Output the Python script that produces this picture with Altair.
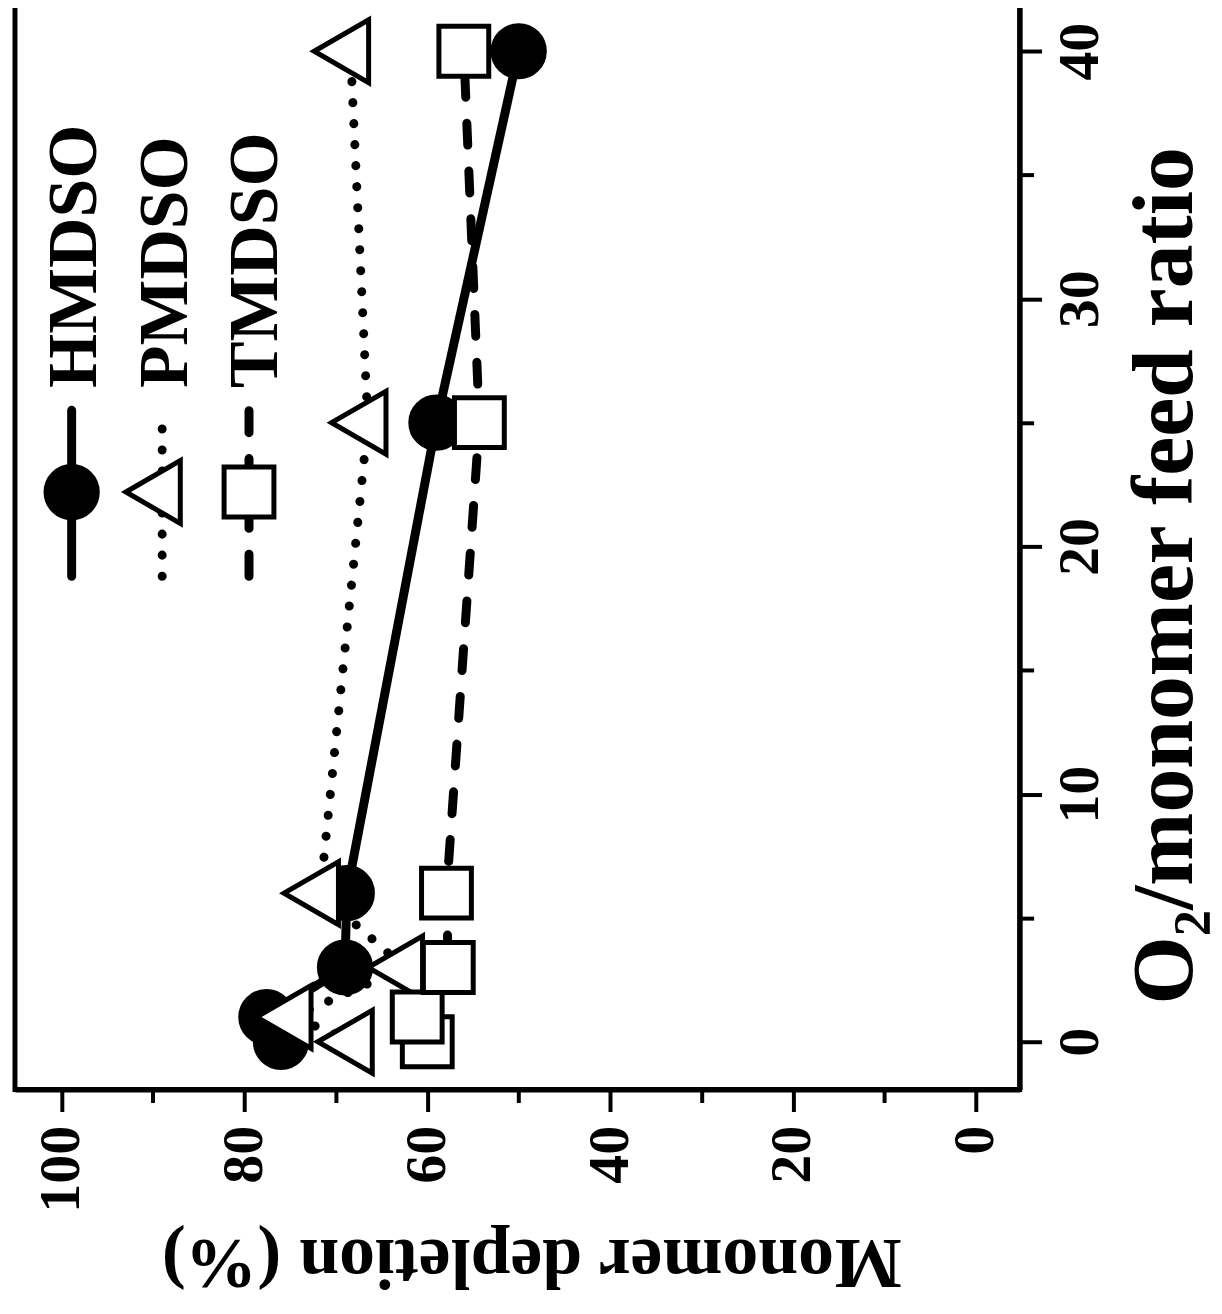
import altair as alt
import pandas as pd

# ---------------- data ----------------
feed_ratio = [0, 1, 3, 6, 25, 40]
hmdso = [76.0, 77.6, 69.0, 68.8, 59.0, 50.0]
pmdso = [68.0, 74.7, 62.5, 71.7, 66.5, 68.4]
tmdso = [60.0, 61.1, 57.7, 57.9, 54.3, 56.0]
series = ["HMDSO", "PMDSO", "TMDSO"]

depletion_ticks = [0, 10, 20, 30, 40, 50, 60, 70, 80, 90, 100]
feed_ticks = [0, 5, 10, 15, 20, 25, 30, 35, 40]

x_title = "Monomer depletion (%)"
y_title = "O\u2082/monomer feed ratio"

# ---------------- tables ----------------
rows = []
for name, vals in zip(series, [hmdso, pmdso, tmdso]):
    for f, v in zip(feed_ratio, vals):
        rows.append({"series": name, "feed": f, "depl": v})
df = pd.DataFrame(rows)

# in-plot legend placement (data units)
leg = pd.DataFrame({
    "series": series,
    "sym_x": [98.9, 89.0, 79.5],
    "txt_x": [96.2, 86.3, 76.4],
})
leg["sym_y"] = 22.2
leg["lo_y"] = 18.8
leg["hi_y"] = 25.5
leg["txt_y"] = 26.4

FONT = "Liberation Serif"
TRI = "M-1,0L0.5,-0.866L0.5,0.866Z"
marker = {
    "HMDSO": dict(shape="circle", fill="black", size=2640),
    "PMDSO": dict(shape=TRI, fill="white", size=5300),
    "TMDSO": dict(shape="square", fill="white", size=2500),
}

x_scale = alt.Scale(domain=[105.1, -4.8], nice=False, zero=False)
y_scale = alt.Scale(domain=[-1.93, 41.9], nice=False, zero=False)

x_axis = alt.Axis(
    orient="bottom", values=depletion_ticks, title=x_title,
    labelExpr="datum.value % 20 == 0 ? datum.label : ''",
    tickSize={"condition": {"test": "datum.value % 20 == 0", "value": 22}, "value": 13},
    labelAngle=270, labelAlign="right", labelBaseline="middle",
    labelFontSize=58, labelPadding=14,
    titleAngle=180, titleBaseline="bottom", titleFontSize=72, titlePadding=12,
    titleX=518,
    grid=False,
)
y_axis = alt.Axis(
    orient="right", values=feed_ticks, title=y_title,
    labelExpr="datum.value % 10 == 0 ? datum.label : ''",
    tickSize={"condition": {"test": "datum.value % 10 == 0", "value": 22}, "value": 14},
    labelAngle=270, labelAlign="center", labelBaseline="top",
    labelFontSize=58, labelPadding=10,
    titleAngle=270, titleBaseline="top", titleFontSize=88, titlePadding=12,
    titleY=573,
    grid=False,
)

def X(field):
    return alt.X(f"{field}:Q", scale=x_scale, axis=x_axis, title=x_title)

def Y(field):
    return alt.Y(f"{field}:Q", scale=y_scale, axis=y_axis, title=y_title)

dash = alt.StrokeDash("series:N", scale=alt.Scale(domain=series, range=[[1, 0], [0.1, 21], [22, 26]]), legend=None)

lines = alt.Chart(df).mark_line(color="black", strokeWidth=9, strokeCap="round").encode(
    x=X("depl"), y=Y("feed"), detail="series:N", order="feed:Q", strokeDash=dash
)
leg_lines = alt.Chart(leg).mark_rule(color="black", strokeWidth=9, strokeCap="round").encode(
    x=X("sym_x"), y=Y("lo_y"), y2="hi_y:Q", strokeDash=dash
)

point_layers = []
for name in series:
    m = marker[name]
    point_layers.append(
        alt.Chart(df).transform_filter(alt.datum.series == name).mark_point(
            shape=m["shape"], fill=m["fill"], size=m["size"], stroke="black",
            strokeWidth=5, opacity=1, fillOpacity=1, filled=False,
        ).encode(x=X("depl"), y=Y("feed"))
    )
    point_layers.append(
        alt.Chart(leg).transform_filter(alt.datum.series == name).mark_point(
            shape=m["shape"], fill=m["fill"], size=m["size"], stroke="black",
            strokeWidth=5, opacity=1, fillOpacity=1, filled=False,
        ).encode(x=X("sym_x"), y=Y("sym_y"))
    )

leg_text = alt.Chart(leg).mark_text(
    angle=270, align="left", baseline="alphabetic", font=FONT, fontWeight="bold",
    fontSize=70, color="black"
).encode(x=X("txt_x"), y=Y("txt_y"), text="series:N")

chart = alt.layer(lines, leg_lines, *point_layers, leg_text).properties(
    width=1008, height=1089,
    padding={"left": 7, "top": -6, "right": 5, "bottom": 12},
).configure(
    background="white"
).configure_view(
    stroke="black", strokeWidth=5
).configure_axis(
    domainColor="black", domainWidth=5, tickColor="black", tickWidth=4,
    labelFont=FONT, labelFontWeight="bold", labelColor="black",
    titleFont=FONT, titleFontWeight="bold", titleColor="black",
)

chart.save("out.html", embed_options={"renderer": "svg", "actions": False})
